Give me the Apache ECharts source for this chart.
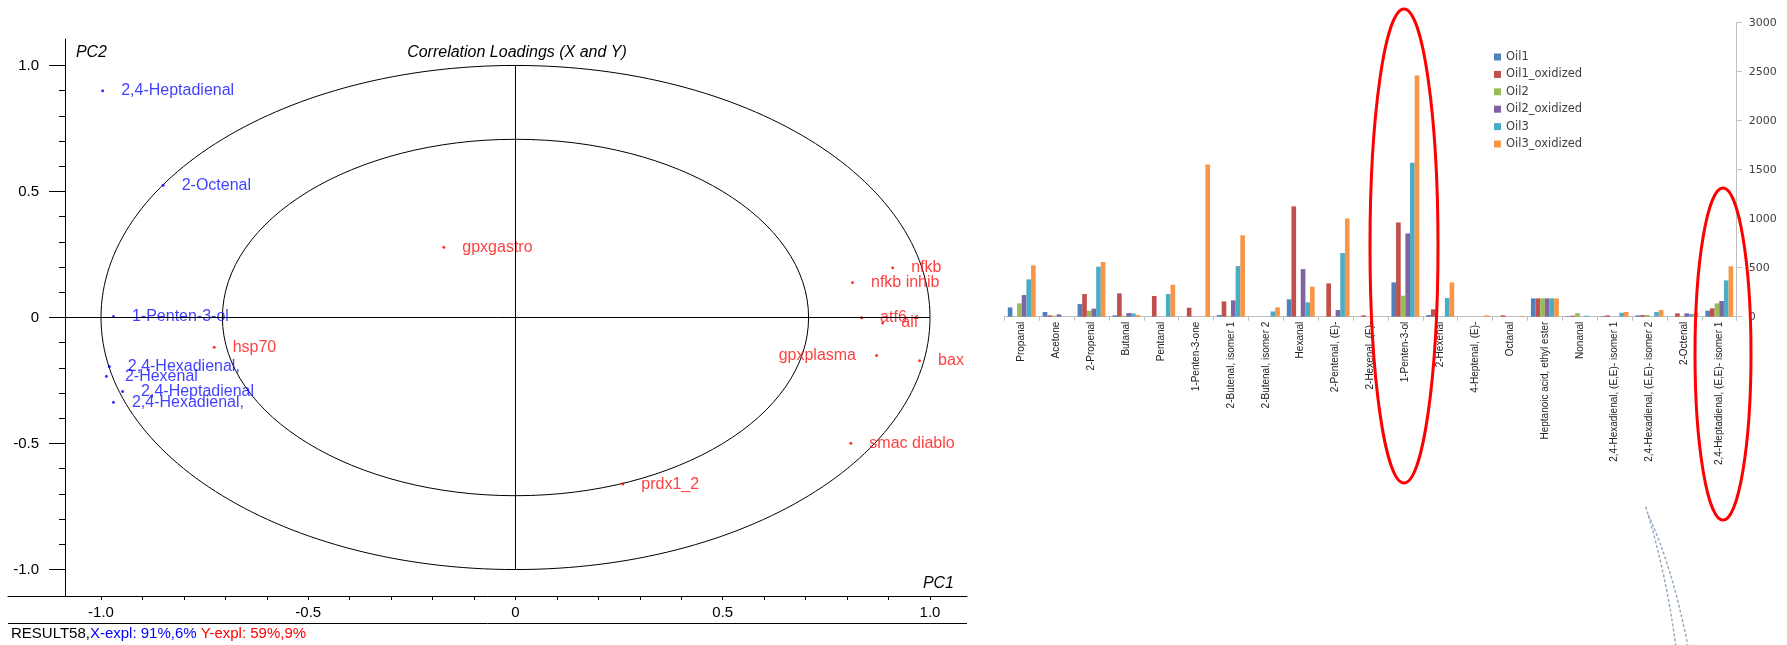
<!DOCTYPE html>
<html>
<head>
<meta charset="utf-8">
<script src="https://cdn.jsdelivr.net/npm/echarts@6/dist/echarts.min.js"></script>
<style>
  html, body { margin: 0; padding: 0; background: #fff; }
  #main { width: 1787px; height: 645px; }
</style>
</head>
<body>
<div id="main"></div>
<script>
// ---------- Correlation loadings (PC1 / PC2) ----------
// X-variables (volatile compounds)
const xLoadNames = ['2,4-Heptadienal', '2-Octenal', '1-Penten-3-ol', '2,4-Hexadienal,', '2-Hexenal', '2,4-Heptadienal', '2,4-Hexadienal,'];
const xLoadPC1   = [-0.996, -0.850, -0.970, -0.980, -0.987, -0.948, -0.970];
const xLoadPC2   = [0.900, 0.525, 0.004, -0.194, -0.233, -0.294, -0.336];

// Y-variables (gene expression)
const yLoadNames = ['gpxgastro', 'hsp70', 'nfkb', 'nfkb inhib', 'atf6', 'aif', 'gpxplasma', 'bax', 'smac diablo', 'prdx1_2'];
const yLoadPC1   = [-0.173, -0.727, 0.910, 0.813, 0.835, 0.886, 0.871, 0.975, 0.809, 0.259];
const yLoadPC2   = [0.279, -0.118, 0.197, 0.139, -0.001, -0.022, -0.151, -0.172, -0.499, -0.661];
const leftLabelled = ['gpxplasma'];

// correlation circles: 100% and 50% explained variance
const circleRadii = [1.0, 0.7071];

const pcMajorTicks = [-1.0, -0.5, 0, 0.5, 1.0];
const pcMinorTicks = [-1.0, -0.9, -0.8, -0.7, -0.6, -0.5, -0.4, -0.3, -0.2, -0.1, 0,
                      0.1, 0.2, 0.3, 0.4, 0.5, 0.6, 0.7, 0.8, 0.9, 1.0];

const resultName = 'RESULT58,';
const xExplText  = 'X-expl: 91%,6%';
const yExplText  = 'Y-expl: 59%,9%';

// ---------- Volatile compound areas per oil ----------
const compounds = ['Propanal', 'Acetone', '2-Propenal', 'Butanal', 'Pentanal', '1-Penten-3-one',
  '2-Butenal, isomer 1', '2-Butenal, isomer 2', 'Hexanal', '2-Pentenal, (E)-', '2-Hexenal, (E)-',
  '1-Penten-3-ol', '2-Hexenal', '4-Heptenal, (E)-', 'Octanal', 'Heptanoic acid, ethyl ester',
  'Nonanal', '2,4-Hexadienal, (E,E)- isomer 1', '2,4-Hexadienal, (E,E)- isomer 2', '2-Octenal',
  '2,4-Heptadienal, (E,E)- isomer 1'];

const oilNames = ['Oil1', 'Oil1_oxidized', 'Oil2', 'Oil2_oxidized', 'Oil3', 'Oil3_oxidized'];
const oil1     = [95, 48, 129, 14, 0, 0, 17, 0, 177, 0, 0, 350, 17, 0, 0, 187, 7, 7, 14, 0, 61];
const oil1Ox   = [0, 14, 231, 238, 211, 92, 156, 0, 1126, 340, 14, 962, 75, 0, 14, 187, 10, 14, 17, 34, 85];
const oil2     = [136, 10, 61, 10, 0, 0, 7, 0, 0, 0, 0, 214, 0, 0, 0, 187, 37, 0, 17, 7, 136];
const oil2Ox   = [221, 24, 82, 37, 0, 0, 167, 0, 486, 68, 3, 850, 0, 0, 0, 187, 0, 0, 0, 34, 160];
const oil3     = [381, 0, 510, 34, 231, 0, 517, 54, 146, 650, 0, 1571, 190, 0, 0, 187, 10, 41, 48, 27, 371];
const oil3Ox   = [524, 0, 558, 17, 326, 1554, 830, 95, 306, 1003, 0, 2462, 350, 14, 7, 187, 0, 48, 68, 41, 514];
const oilValues = [oil1, oil1Ox, oil2, oil2Ox, oil3, oil3Ox];
const oilColors = ['#4F81BD', '#C0504D', '#9BBB59', '#8064A2', '#4BACC6', '#F79646'];

const SANS = '"Liberation Sans", Arial, sans-serif';
const DEJAVU = '"DejaVu Sans", Verdana, sans-serif';

// x position (PC1 value) where the vertical axis sits
const pcAxisAt = -1.088;

const chart = echarts.init(document.getElementById('main'), null, { renderer: 'canvas' });

const pointLabel = (color) => ({
  show: true,
  position: 'right',
  distance: 17,
  color: color,
  fontSize: 16,
  fontFamily: SANS,
  formatter: (p) => p.data.name
});

const loadingSeries = [
  {
    type: 'custom',
    name: 'circles',
    xAxisIndex: 0, yAxisIndex: 0,
    silent: true,
    clip: false,
    data: circleRadii.map(r => [r, 0]),
    renderItem: (params, api) => {
      const r = api.value(0);
      const c = api.coord([0, 0]);
      const s = api.size([r, r]);
      return {
        type: 'ellipse',
        shape: { cx: c[0], cy: c[1], rx: s[0], ry: s[1] },
        style: { fill: 'none', stroke: '#000', lineWidth: 1 }
      };
    }
  },
  {
    type: 'line', name: 'pc1line', xAxisIndex: 0, yAxisIndex: 0, silent: true,
    symbol: 'none', lineStyle: { color: '#000', width: 1 },
    data: [[pcAxisAt, 0], [1.0, 0]]
  },
  {
    type: 'line', name: 'pc2line', xAxisIndex: 0, yAxisIndex: 0, silent: true,
    symbol: 'none', lineStyle: { color: '#000', width: 1 },
    data: [[0, -1.0], [0, 1.0]]
  },
  {
    type: 'scatter', name: 'X', xAxisIndex: 0, yAxisIndex: 0,
    symbol: 'circle', symbolSize: 3,
    itemStyle: { color: '#0000ff' },
    label: pointLabel('#0f0fff'),
    data: xLoadNames.map((n, i) => ({ name: n, value: [xLoadPC1[i], xLoadPC2[i]] }))
  },
  {
    type: 'scatter', name: 'Y', xAxisIndex: 0, yAxisIndex: 0,
    symbol: 'circle', symbolSize: 3,
    itemStyle: { color: '#ff0000' },
    label: pointLabel('#ff0f0f'),
    data: yLoadNames.map((n, i) => {
      const item = { name: n, value: [yLoadPC1[i], yLoadPC2[i]] };
      if (leftLabelled.includes(n)) item.label = { position: 'left', distance: 19 };
      return item;
    })
  }
];

const barSeries = oilNames.map((name, k) => ({
  type: 'bar',
  name: name,
  xAxisIndex: 1,
  yAxisIndex: 2,
  barGap: '0%',
  barCategoryGap: '20%',
  itemStyle: { color: oilColors[k] },
  data: oilValues[k]
}));

const option = {
  animation: false,
  backgroundColor: '#fff',
  grid: [
    { left: 8, top: 39, width: 959, height: 557 },
    { left: 1004.3, top: 22.7, width: 732.4, height: 294 }
  ],
  xAxis: [
    {
      type: 'value', gridIndex: 0, min: -1.2244, max: 1.0893,
      axisLine: { show: true, onZero: false, lineStyle: { color: '#000', width: 1 } },
      axisTick: { show: true, customValues: pcMinorTicks, length: 4, lineStyle: { color: '#000' } },
      axisLabel: {
        customValues: pcMajorTicks, margin: 9, fontSize: 15, color: '#000', fontFamily: SANS,
        formatter: v => (v === 0 ? '0' : v.toFixed(1))
      },
      splitLine: { show: false }
    },
    {
      type: 'category', gridIndex: 1, data: compounds,
      axisLine: { show: true, lineStyle: { color: '#bfbfbf' } },
      axisTick: { show: true, length: 4, lineStyle: { color: '#bfbfbf' } },
      axisLabel: {
        interval: 0, rotate: 90, margin: 5, fontSize: 10, color: '#222', fontFamily: SANS
      },
      splitLine: { show: false }
    }
  ],
  yAxis: [
    {
      type: 'value', gridIndex: 0, position: 'left', offset: -57, min: -1.105, max: 1.105,
      axisLine: { show: true, onZero: false, lineStyle: { color: '#000', width: 1 } },
      axisTick: { show: true, customValues: pcMajorTicks, length: 16, lineStyle: { color: '#000' } },
      axisLabel: {
        customValues: pcMajorTicks, margin: 26, fontSize: 15, color: '#000', fontFamily: SANS,
        formatter: v => (v === 0 ? '0' : v.toFixed(1))
      },
      splitLine: { show: false }
    },
    {
      type: 'value', gridIndex: 0, position: 'left', offset: -57, min: -1.105, max: 1.105,
      axisLine: { show: false, onZero: false },
      axisTick: { show: true, customValues: pcMinorTicks, length: 6, lineStyle: { color: '#000' } },
      axisLabel: { show: false },
      splitLine: { show: false }
    },
    {
      type: 'value', gridIndex: 1, position: 'right', min: 0, max: 3000, interval: 500,
      axisLine: { show: true, onZero: false, lineStyle: { color: '#bfbfbf' } },
      axisTick: { show: true, length: 5, lineStyle: { color: '#bfbfbf' } },
      axisLabel: {
        margin: 12, fontSize: 11, color: '#404040', fontFamily: DEJAVU,
        formatter: v => String(v)
      },
      splitLine: { show: false }
    }
  ],
  legend: {
    data: oilNames,
    orient: 'vertical',
    left: 1489,
    top: 46,
    icon: 'rect',
    itemWidth: 7,
    itemHeight: 7,
    itemGap: 5.4,
    selectedMode: false,
    textStyle: { fontSize: 11.5, color: '#404040', fontFamily: DEJAVU }
  },
  series: loadingSeries.concat(barSeries),
  graphic: [
    {
      type: 'text',
      style: {
        text: 'Correlation Loadings (X and Y)', x: 517, y: 53, align: 'center', verticalAlign: 'middle',
        fontSize: 16, fontStyle: 'italic', fontFamily: SANS, fill: '#000'
      }
    },
    {
      type: 'text',
      style: {
        text: 'PC2', x: 107, y: 53, align: 'right', verticalAlign: 'middle',
        fontSize: 16, fontStyle: 'italic', fontFamily: SANS, fill: '#000'
      }
    },
    {
      type: 'text',
      style: {
        text: 'PC1', x: 954, y: 584, align: 'right', verticalAlign: 'middle',
        fontSize: 16, fontStyle: 'italic', fontFamily: SANS, fill: '#000'
      }
    },
    {
      type: 'line',
      shape: { x1: 8, y1: 623.5, x2: 967, y2: 623.5 },
      style: { stroke: '#000', lineWidth: 1 }
    },
    {
      type: 'text',
      style: {
        text: '{k|' + resultName + '}{x|' + xExplText + '} {y|' + yExplText + '}',
        x: 11, y: 634, verticalAlign: 'middle', fontFamily: SANS, fontSize: 15,
        rich: {
          k: { fill: '#000', fontSize: 15, fontFamily: SANS },
          x: { fill: '#0000ff', fontSize: 15, fontFamily: SANS },
          y: { fill: '#ff0000', fontSize: 15, fontFamily: SANS }
        }
      }
    },
    // hand-drawn highlight rings and arrow trace
    {
      type: 'ellipse', z: 100,
      shape: { cx: 1404, cy: 246, rx: 34, ry: 237 },
      style: { fill: 'none', stroke: '#ff0000', lineWidth: 3 }
    },
    {
      type: 'ellipse', z: 100,
      shape: { cx: 1723, cy: 354, rx: 28, ry: 166 },
      style: { fill: 'none', stroke: '#ff0000', lineWidth: 3 }
    },
    {
      type: 'bezierCurve', z: 90,
      shape: { x1: 1645.7, y1: 506.7, cpx1: 1665.4, cpy1: 570, x2: 1675.7, y2: 645 },
      style: { fill: 'none', stroke: '#9badbf', lineWidth: 1.5, lineDash: [3, 2] }
    },
    {
      type: 'bezierCurve', z: 90,
      shape: { x1: 1648.3, y1: 515, cpx1: 1672, cpy1: 566, x2: 1687.7, y2: 645 },
      style: { fill: 'none', stroke: '#9badbf', lineWidth: 1.5, lineDash: [3, 2] }
    }
  ]
};

chart.setOption(option);
</script>
</body>
</html>
